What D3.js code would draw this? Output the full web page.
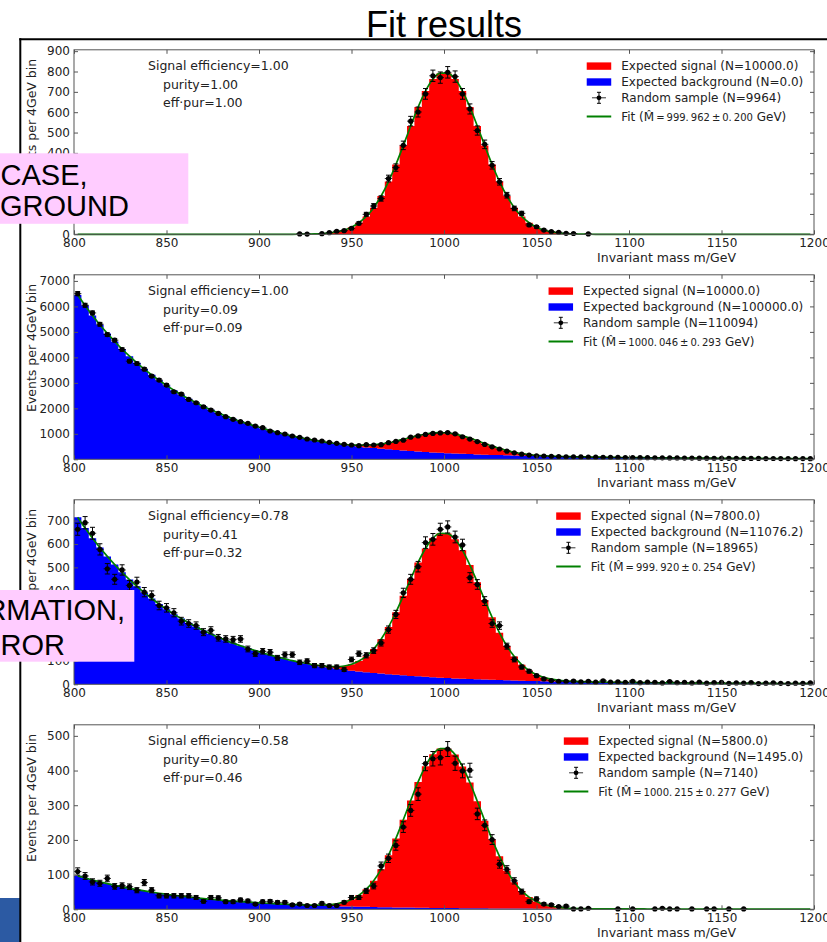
<!DOCTYPE html>
<html>
<head>
<meta charset="utf-8">
<script src="https://cdn.jsdelivr.net/npm/d3@7"></script>
<style>
  html, body { margin: 0; padding: 0; background: #fff; }
  svg { display: block; }
</style>
</head>
<body>
<svg id="fig" width="827" height="942"></svg>
<script>
// ---------------- data ----------------
// Invariant mass histogram: 4 GeV bins from 800 to 1200 GeV
const massMin = 800, massMax = 1200, binWidth = 4;
const xTicks = [800, 850, 900, 950, 1000, 1050, 1100, 1150, 1200];
const yTicksP1 = [0, 100, 200, 300, 400, 500, 600, 700, 800, 900];
const yTicksP2 = [0, 1000, 2000, 3000, 4000, 5000, 6000, 7000];
const yTicksP3 = [0, 100, 200, 300, 400, 500, 600, 700];
const yTicksP4 = [0, 100, 200, 300, 400, 500];

// Expected signal per bin (N = 10000, 7800, 5800)
const signalN10000 = [
  0,0,0,0,0,0,0,0,0,0, 0,0,0,0,0,0,0,0,0,0, 0,0,0,0,0,0,0,0,0,0,
  0.4,1.0,1.7,3.4,6.5,12,21,35,57,88, 131,188,259,343,436,532,625,704,763,792,
  792,763,704,625,532,436,343,259,188,131, 88,57,35,21,12,6.5,3.4,1.7,1.0,0.4,
  0,0,0,0,0,0,0,0,0,0, 0,0,0,0,0,0,0,0,0,0, 0,0,0,0,0,0,0,0,0,0
];
const signalN7800 = [
  0,0,0,0,0,0,0,0,0,0, 0,0,0,0,0,0,0,0,0,0, 0,0,0,0,0,0,0,0,0,0,
  0.3,0.8,1.3,2.7,5.1,9.4,16.4,27.3,44.5,68.6, 102.2,146.6,202.0,267.5,340.1,415.0,487.5,549.1,595.1,617.8,
  617.8,595.1,549.1,487.5,415.0,340.1,267.5,202.0,146.6,102.2, 68.6,44.5,27.3,16.4,9.4,5.1,2.7,1.3,0.8,0.3,
  0,0,0,0,0,0,0,0,0,0, 0,0,0,0,0,0,0,0,0,0, 0,0,0,0,0,0,0,0,0,0
];
const signalN5800 = [
  0,0,0,0,0,0,0,0,0,0, 0,0,0,0,0,0,0,0,0,0, 0,0,0,0,0,0,0,0,0,0,
  0.2,0.6,1.0,2.0,3.8,7.0,12.2,20.3,33.1,51.0, 76.0,109.0,150.2,198.9,252.9,308.6,362.5,408.3,442.5,459.4,
  459.4,442.5,408.3,362.5,308.6,252.9,198.9,150.2,109.0,76.0, 51.0,33.1,20.3,12.2,7.0,3.8,2.0,1.0,0.6,0.2,
  0,0,0,0,0,0,0,0,0,0, 0,0,0,0,0,0,0,0,0,0, 0,0,0,0,0,0,0,0,0,0
];

// Expected background per bin
const backgroundP1 = [
  0,0,0,0,0,0,0,0,0,0, 0,0,0,0,0,0,0,0,0,0, 0,0,0,0,0,0,0,0,0,0, 0,0,0,0,0,0,0,0,0,0, 0,0,0,0,0,0,0,0,0,0,
  0,0,0,0,0,0,0,0,0,0, 0,0,0,0,0,0,0,0,0,0, 0,0,0,0,0,0,0,0,0,0, 0,0,0,0,0,0,0,0,0,0, 0,0,0,0,0,0,0,0,0,0
];
const backgroundP2 = [
  6450,6034,5645,5281,4941,4623,4325,4046,3785,3541, 3313,3100,2900,2712,2537,2373,2219,2076,1941,1816,
  1698,1589,1486,1390,1300,1212,1130,1053,982,915, 853,795,741,691,644,601,560,527,496,467,
  440,414,390,367,345,325,306,288,271,255, 240,227,215,204,193,183,173,164,155,147,
  139,132,125,119,113,108,103,98,93,89, 85,81,77,73,70,67,64,62,59,57,
  54,52,50,48,46,44,42,40,38,37, 36,34,33,32,30,29,28,27,26,25
];
const backgroundP3 = [
  714,668,625,585,547,512,479,448,419,392, 367,343,321,300,281,263,246,230,215,201,
  188,176,165,154,144,134,125,117,109,101, 94.5,88,82,76.5,71,66.6,62,58.4,54.9,51.7,
  48.7,45.9,43.2,40.6,38.2,36.0,33.9,31.9,30.0,28.2, 26.6,25.1,23.8,22.6,21.4,20.3,19.2,18.2,17.2,16.3,
  15.4,14.6,13.8,13.2,12.5,12.0,11.4,10.9,10.3,9.9, 9.4,9.0,8.5,8.1,7.8,7.4,7.1,6.9,6.5,6.3,
  6.0,5.8,5.5,5.3,5.1,4.9,4.7,4.4,4.2,4.1, 4.0,3.8,3.7,3.5,3.3,3.2,3.1,3.0,2.9,2.8
];
const backgroundP4 = [
  96.4,90.2,84.4,79.0,73.9,69.1,64.7,60.5,56.6,52.9, 49.5,46.3,43.4,40.5,37.9,35.5,33.2,31.0,29.0,27.1,
  25.4,23.8,22.2,20.8,19.4,18.1,16.9,15.7,14.7,13.7, 12.8,11.9,11.1,10.3,9.6,9.0,8.4,7.9,7.4,7.0,
  6.6,6.2,5.8,5.5,5.2,4.9,4.6,4.3,4.1,3.8, 3.6,3.4,3.2,3.0,2.9,2.7,2.6,2.5,2.3,2.2,
  2.1,2.0,1.9,1.8,1.7,1.6,1.5,1.5,1.4,1.3, 1.3,1.2,1.2,1.1,1.0,1.0,1.0,0.9,0.9,0.9,
  0.8,0.8,0.7,0.7,0.7,0.7,0.6,0.6,0.6,0.6, 0.5,0.5,0.5,0.5,0.4,0.4,0.4,0.4,0.4,0.4
];

// Random sample counts per bin
const sampleP1 = [
  0,0,0,0,0,0,0,0,0,0, 0,0,0,0,0,0,0,0,0,0, 0,0,0,0,0,0,0,0,0,0,
  2,1,0,3,8,15,18,29,54,98, 139,176,274,328,437,556,601,690,779,770,
  796,775,690,616,510,442,339,258,192,127, 103,46,37,21,13,10,5,4,0,2,
  0,0,0,0,0,0,0,0,0,0, 0,0,0,0,0,0,0,0,0,0, 0,0,0,0,0,0,0,0,0,0
];
const sampleP2 = [
  6501,6044,5744,5300,4896,4674,4308,3851,3760,3538, 3264,3107,2911,2650,2559,2350,2219,2063,1932,1802,
  1671,1567,1475,1410,1305,1240,1110,1044,992,914, 862,796,757,718,666,627,587,561,535,575,
  562,575,652,700,752,870,918,975,1015,1035, 1050,1000,885,795,695,585,490,405,320,255,
  200,165,140,130,118,110,100,98,92,87, 83,80,79,72,69,68,62,63,57,58,
  52,53,48,49,44,45,41,40,37,38, 35,33,34,30,31,28,29,26,27,24
];
const sampleP3 = [
  663,691,646,577,494,449,489,423,437,394, 380,337,327,306,270,260,251,223,231,199,
  194,191,194,151,131,141,137,113,127,127, 94,99,80,80,74,74,63,106,131,124,
  144,177,234,299,391,449,503,606,620,663, 673,630,596,456,427,356,260,251,163,106,
  74,56,37,23,16,13,13,14,10,13, 9,15,9,10,8,13,7,9,8,6,
  12,7,8,6,9,5,7,8,4,6, 5,7,3,5,6,4,3,5,4,6
];
const sampleP4 = [
  109,96,79,75,89,66,68,65,55,77, 55,39,39,39,39,39,34,23,34,33,
  22,22,27,24,15,22,23,20,20,13, 15,11,11,17,11,11,20,34,34,53,
  67,125,147,184,237,285,332,420,434,437, 462,421,399,401,275,242,201,130,115,82,
  51,22,30,15,13,8,9,1,1,3, 0,0,0,1,0,1,0,0,1,3,
  1,1,0,1,0,1,1,0,1,0, 1,0,0,0,0,0,0,0,0,0
];

// Summary figures per panel
const efficiency = [1.00, 1.00, 0.78, 0.58];
const purity = [1.00, 0.09, 0.41, 0.80];
const effTimesPur = [1.00, 0.09, 0.32, 0.46];
const expectedSignalN = [10000.0, 10000.0, 7800.0, 5800.0];
const expectedBackgroundN = [0.0, 100000.0, 11076.2, 1495.0];
const sampleN = [9964, 110094, 18965, 7140];
const fitMass = [999.962, 1000.046, 999.920, 1000.215];
const fitMassErr = [0.200, 0.293, 0.254, 0.277];

// ---------------- layout ----------------
const panels = [
  { signal: signalN10000, background: backgroundP1, sample: sampleP1, yTicks: yTicksP1 },
  { signal: signalN10000, background: backgroundP2, sample: sampleP2, yTicks: yTicksP2 },
  { signal: signalN7800,  background: backgroundP3, sample: sampleP3, yTicks: yTicksP3 },
  { signal: signalN5800,  background: backgroundP4, sample: sampleP4, yTicks: yTicksP4 }
];

const plotLeft = 74, plotRight = 814, firstBottom = 234.3, panelStep = 225, panelHeight = 184.5;
const TXT = "#222", SPINE = "#555";
const mplFont = "'DejaVu Sans', Verdana, sans-serif";
const slideFont = "'Liberation Sans', Arial, Helvetica, sans-serif";

const svg = d3.select("#fig");
svg.append("rect").attr("width", 827).attr("height", 942).attr("fill", "#fff");

const x = d3.scaleLinear().domain([massMin, massMax]).range([plotLeft, plotRight]);
const binStarts = d3.range(massMin, massMax, binWidth);

panels.forEach((p, k) => {
  const bottom = firstBottom + panelStep * k;
  const top = bottom - panelHeight;
  const yMax = 1.1 * d3.max(p.sample, v => v + Math.sqrt(v));
  const y = d3.scaleLinear().domain([0, yMax]).range([bottom, top]);
  const g = svg.append("g");

  const rows = binStarts.map((b, i) => ({
    x0: b, bg: p.background[i], tot: p.background[i] + p.signal[i], n: p.sample[i]
  }));
  const last = rows[rows.length - 1];
  const stepRows = rows.concat([{ x0: massMax, bg: last.bg, tot: last.tot }]);

  // stacked histogram: background (blue) then signal (red)
  const bgArea = d3.area().curve(d3.curveStepAfter)
    .x(d => x(d.x0)).y0(y(0)).y1(d => y(d.bg));
  const sigArea = d3.area().curve(d3.curveStepAfter)
    .x(d => x(d.x0)).y0(d => y(d.bg)).y1(d => y(d.tot));
  g.append("path").datum(stepRows).attr("fill", "#0000ff").attr("d", bgArea);
  g.append("path").datum(stepRows).attr("fill", "#ff0000").attr("d", sigArea);

  // fit curve
  const fitLine = d3.line().curve(d3.curveMonotoneX)
    .x(d => x(d.x0 + binWidth / 2)).y(d => y(d.tot));
  g.append("path").datum(rows).attr("fill", "none")
    .attr("stroke", "#008000").attr("stroke-width", 1.7).attr("d", fitLine);

  // random sample with Poisson error bars
  const pts = g.append("g").attr("stroke", "#000").attr("stroke-width", 1);
  rows.filter(d => d.n > 0).forEach(d => {
    const cx = x(d.x0 + binWidth / 2), cy = y(d.n);
    const e = Math.sqrt(d.n);
    const yHi = y(d.n + e), yLo = y(d.n - e);
    pts.append("line").attr("x1", cx).attr("x2", cx).attr("y1", yHi).attr("y2", yLo);
    pts.append("line").attr("x1", cx - 2.5).attr("x2", cx + 2.5).attr("y1", yHi).attr("y2", yHi);
    pts.append("line").attr("x1", cx - 2.5).attr("x2", cx + 2.5).attr("y1", yLo).attr("y2", yLo);
    pts.append("line").attr("x1", x(d.x0)).attr("x2", x(d.x0 + binWidth)).attr("y1", cy).attr("y2", cy)
      .attr("stroke-width", 0.8);
    pts.append("circle").attr("cx", cx).attr("cy", cy).attr("r", 2.6).attr("fill", "#000").attr("stroke", "none");
  });

  // axes with inward ticks on all four sides
  const styleAxis = sel => {
    sel.select(".domain").remove();
    sel.selectAll(".tick line").attr("stroke", SPINE);
    sel.selectAll("text").attr("fill", TXT).style("font-family", mplFont).style("font-size", "12px");
  };
  g.append("g").attr("transform", `translate(0,${bottom})`)
    .call(d3.axisBottom(x).tickValues(xTicks).tickSizeInner(-4).tickSizeOuter(0).tickPadding(4).tickFormat(d3.format("d")))
    .call(styleAxis);
  g.append("g").attr("transform", `translate(0,${top})`)
    .call(d3.axisTop(x).tickValues(xTicks).tickSizeInner(-4).tickSizeOuter(0).tickFormat(""))
    .call(styleAxis);
  g.append("g").attr("transform", `translate(${plotLeft},0)`)
    .call(d3.axisLeft(y).tickValues(p.yTicks).tickSizeInner(-4).tickSizeOuter(0).tickPadding(4).tickFormat(d3.format("d")))
    .call(styleAxis);
  g.append("g").attr("transform", `translate(${plotRight},0)`)
    .call(d3.axisRight(y).tickValues(p.yTicks).tickSizeInner(-4).tickSizeOuter(0).tickFormat(""))
    .call(styleAxis);

  g.append("rect").attr("x", plotLeft).attr("y", top)
    .attr("width", plotRight - plotLeft).attr("height", bottom - top)
    .attr("fill", "none").attr("stroke", SPINE).attr("stroke-width", 1);

  // axis titles
  g.append("text").attr("x", 666.5).attr("y", bottom + 27.5).attr("text-anchor", "middle")
    .attr("fill", TXT).style("font-family", mplFont).style("font-size", "12.5px")
    .text("Invariant mass m/GeV");
  g.append("text").attr("transform", `translate(35.5,${top + 9}) rotate(-90)`).attr("text-anchor", "end")
    .attr("fill", TXT).style("font-family", mplFont).style("font-size", "12.5px")
    .text("Events per 4GeV bin");

  // efficiency / purity note
  const note = g.append("g").attr("fill", TXT).style("font-family", mplFont).style("font-size", "12.5px");
  note.append("text").attr("x", 148).attr("y", top + 20.5).text(`Signal efficiency=${efficiency[k].toFixed(2)}`);
  note.append("text").attr("x", 163).attr("y", top + 39).text(`purity=${purity[k].toFixed(2)}`);
  note.append("text").attr("x", 163).attr("y", top + 57.5).text(`eff\u00b7pur=${effTimesPur[k].toFixed(2)}`);

  // legend (right aligned)
  const leg = g.append("g").style("font-family", mplFont).style("font-size", "12px").attr("fill", TXT);
  const rowY = [16.3, 32.2, 48, 66.7].map(v => top + v);
  const labels = [
    `Expected signal (N=${expectedSignalN[k].toFixed(1)})`,
    `Expected background (N=${expectedBackgroundN[k].toFixed(1)})`,
    `Random sample (N=${sampleN[k]})`
  ];
  const texts = labels.map((s, r) => leg.append("text").attr("y", rowY[r] + 4.3).text(s));
  const fitText = leg.append("text").attr("y", rowY[3] + 4.3);
  fitText.append("tspan").text("Fit (");
  fitText.append("tspan").text("M\u0302");
  fitText.append("tspan").style("font-size", "10px")
    .text(`\u2009=\u2009${fitMass[k].toFixed(3).replace(".", ".\u2009")}\u2009\u00b1\u2009${fitMassErr[k].toFixed(3).replace(".", ".\u2009")}`);
  fitText.append("tspan").text(" GeV)");
  texts.push(fitText);
  const maxW = d3.max(texts, t => t.node().getComputedTextLength());
  const tx = 803.3 - maxW;
  texts.forEach(t => t.attr("x", tx));
  const hx0 = tx - 34.5, hx1 = tx - 10, hc = (hx0 + hx1) / 2;
  leg.append("rect").attr("x", hx0).attr("y", rowY[0] - 3.7).attr("width", hx1 - hx0).attr("height", 7.4).attr("fill", "#ff0000");
  leg.append("rect").attr("x", hx0).attr("y", rowY[1] - 3.7).attr("width", hx1 - hx0).attr("height", 7.4).attr("fill", "#0000ff");
  const mk = leg.append("g").attr("stroke", "#000").attr("stroke-width", 1);
  mk.append("line").attr("x1", hc).attr("x2", hc).attr("y1", rowY[2] - 5.5).attr("y2", rowY[2] + 5.5);
  mk.append("line").attr("x1", hc - 2).attr("x2", hc + 2).attr("y1", rowY[2] - 5.5).attr("y2", rowY[2] - 5.5);
  mk.append("line").attr("x1", hc - 2).attr("x2", hc + 2).attr("y1", rowY[2] + 5.5).attr("y2", rowY[2] + 5.5);
  mk.append("line").attr("x1", hc - 7).attr("x2", hc + 7).attr("y1", rowY[2]).attr("y2", rowY[2]).attr("stroke-width", 0.8);
  mk.append("circle").attr("cx", hc).attr("cy", rowY[2]).attr("r", 2.4).attr("fill", "#000").attr("stroke", "none");
  leg.append("line").attr("x1", hx0).attr("x2", hx1).attr("y1", rowY[3]).attr("y2", rowY[3])
    .attr("stroke", "#008000").attr("stroke-width", 2);
});

// ---------------- slide decorations ----------------
svg.append("text").attr("x", 444).attr("y", 37).attr("text-anchor", "middle")
  .attr("fill", "#000").style("font-family", slideFont).style("font-size", "36px")
  .text("Fit results");

svg.append("rect").attr("x", 0).attr("y", 898).attr("width", 20).attr("height", 44).attr("fill", "#2c5aa3");
svg.append("line").attr("x1", 20.3).attr("x2", 20.3).attr("y1", 38.3).attr("y2", 942)
  .attr("stroke", "#000").attr("stroke-width", 2);
svg.append("line").attr("x1", 19.3).attr("x2", 827).attr("y1", 39.3).attr("y2", 39.3)
  .attr("stroke", "#000").attr("stroke-width", 2);

// pink call-out boxes at the left edge of the slide
const callouts = [
  { x: 0, y: 153.3, w: 188.3, h: 70.5, lines: [
    { t: "CASE,", at: 0.5, anchor: "start", base: 185 },
    { t: "GROUND", at: 0, anchor: "start", base: 215.7 } ] },
  { x: 0, y: 590, w: 134.3, h: 71.7, lines: [
    { t: "RMATION,", at: 125, anchor: "end", base: 620 },
    { t: "ROR", at: 0.5, anchor: "start", base: 655 } ] }
];
callouts.forEach(c => {
  svg.append("rect").attr("x", c.x).attr("y", c.y).attr("width", c.w).attr("height", c.h).attr("fill", "#ffccff");
  c.lines.forEach(l => svg.append("text").attr("x", l.at).attr("y", l.base).attr("text-anchor", l.anchor)
    .attr("fill", "#000").style("font-family", slideFont).style("font-size", "29px").text(l.t));
});
</script>
</body>
</html>
